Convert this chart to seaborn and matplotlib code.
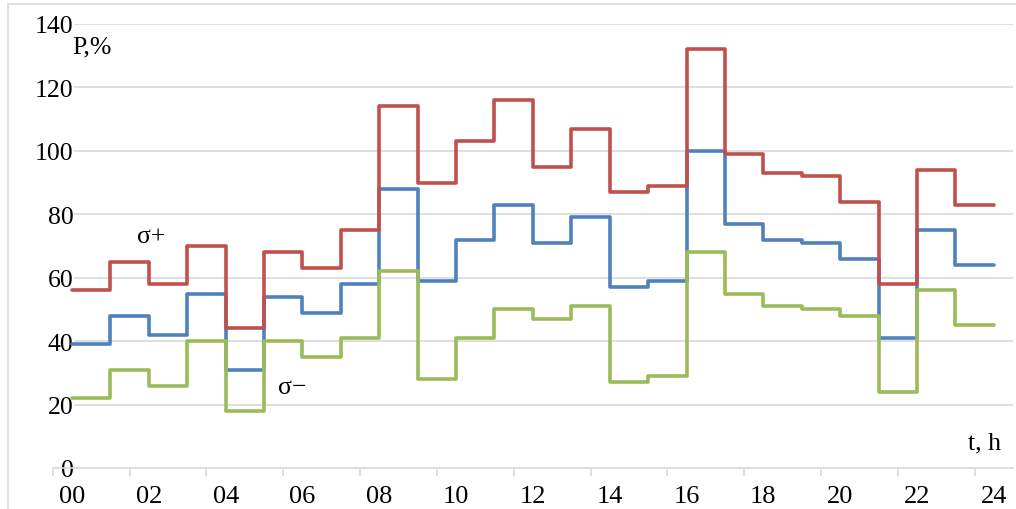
import numpy as np
import pandas as pd
import matplotlib
matplotlib.use("Agg")
import matplotlib.pyplot as plt
from matplotlib.patches import Rectangle
import seaborn as sns

# Hourly values, each held for one hour (00..23)
hours = list(range(24))
p_mean = [39, 48, 42, 55, 31, 54, 49, 58, 88, 59, 72, 83, 71, 79, 57, 59,
          100, 77, 72, 71, 66, 41, 75, 64]
p_plus = [56, 65, 58, 70, 44, 68, 63, 75, 114, 90, 103, 116, 95, 107, 87, 89,
          132, 99, 93, 92, 84, 58, 94, 83]
p_minus = [22, 31, 26, 40, 18, 40, 35, 41, 62, 28, 41, 50, 47, 51, 27, 29,
           68, 55, 51, 50, 48, 24, 56, 45]

x_labels = ["00", "02", "04", "06", "08", "10", "12", "14", "16", "18", "20", "22", "24"]
y_ticks = [0, 20, 40, 60, 80, 100, 120, 140]

series = {"mean": p_mean, "minus": p_minus, "plus": p_plus}
colors = {"mean": "#4F81BD", "minus": "#9BBB59", "plus": "#C0504D"}

rows = []
for name, vals in series.items():
    # repeat the last value at hour 24 so the final step is closed
    for h, v in zip(hours + [24], list(vals) + [vals[-1]]):
        rows.append({"t": h, "P": v, "series": name})
df = pd.DataFrame(rows)

sns.set_theme(style="white")
plt.rcParams["font.family"] = ["Liberation Serif", "DejaVu Serif"]

fig = plt.figure(figsize=(10.16, 5.10), dpi=100)
ax = fig.add_axes([52.8 / 1016, 41 / 510, (1013 - 52.8) / 1016, (469 - 25) / 510])

# chart-area border
fig.patches.append(Rectangle((8 / 1016, -0.2), 1.2, 1.2 - 5 / 510,
                             transform=fig.transFigure, fill=False,
                             edgecolor="#D9D9D9", linewidth=1.2, zorder=0))

sns.lineplot(data=df, x="t", y="P", hue="series",
             hue_order=["mean", "minus", "plus"], palette=colors,
             drawstyle="steps-post", linewidth=2.6, legend=False, ax=ax,
             estimator=None, sort=False)

ax.set_xlim(-0.5, 24.5)
ax.set_ylim(0, 140)

for s in ["top", "right", "left"]:
    ax.spines[s].set_visible(False)
ax.spines["bottom"].set_color("#D9D9D9")
ax.spines["bottom"].set_linewidth(1.2)

ax.set_yticks(y_ticks)
ax.set_yticklabels([str(v) for v in y_ticks])
ax.yaxis.grid(True, color="#D9D9D9", linewidth=1.2)
ax.xaxis.grid(False)
ax.set_axisbelow(True)
ax.tick_params(axis="y", length=0, pad=-15, labelsize=18.5, labelcolor="black")
for lbl in ax.get_yticklabels():
    lbl.set_horizontalalignment("right")
    lbl.set_bbox(dict(facecolor="white", edgecolor="none", pad=0.5))
    lbl.set_zorder(5)

# labels every two hours, tick marks between categories
ax.set_xticks(list(range(0, 25, 2)))
ax.set_xticklabels(x_labels)
ax.set_xticks(np.arange(-0.5, 25, 2), minor=True)
ax.tick_params(axis="x", which="major", length=0, pad=12, labelsize=19, labelcolor="black")
ax.tick_params(axis="x", which="minor", length=6, width=1.2, color="#D9D9D9", direction="out",
               bottom=True)

ax.set_xlabel("")
ax.set_ylabel("")

txt = dict(fontsize=18.5, color="black", va="center")
ax.text(0.02, 133, "P,%", ha="left", **txt)
ax.text(1.69, 73, "σ+", ha="left", **txt)
ax.text(5.36, 25.5, "σ−", ha="left", **txt)
ax.text(24.2, 8.2, "t, h", ha="right", **txt)

fig.savefig("out.png", dpi=100)
